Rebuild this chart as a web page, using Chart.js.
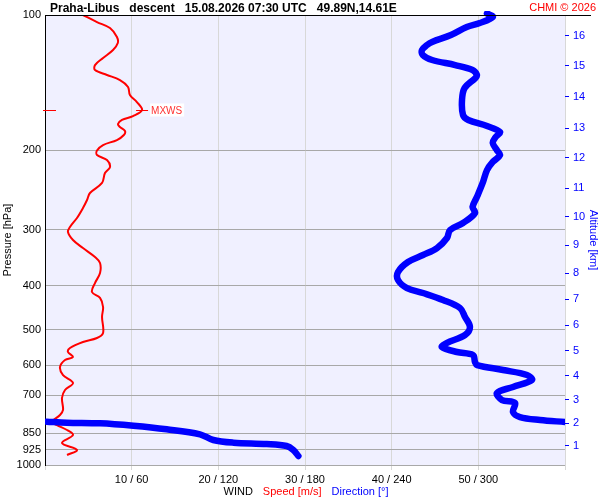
<!DOCTYPE html>
<html><head><meta charset="utf-8">
<script src="https://cdn.jsdelivr.net/npm/chart.js@4/dist/chart.umd.min.js"></script>
<style>html,body{margin:0;padding:0;background:#fff}#wrap{width:600px;height:500px;position:relative}</style>
</head><body><div id="wrap"><canvas id="c"></canvas></div>
<script>
const FONT = "'Liberation Sans', Arial, sans-serif";
const titleText = "Praha-Libus   descent   15.08.2026 07:30 UTC   49.89N,14.61E";
const creditText = "CHMI \u00A9 2026";
const pressureTicks = [100,200,300,400,500,600,700,850,925,1000];
const altKm = [1,2,3,4,5,6,7,8,9,10,11,12,13,14,15,16];
const altPressure = [907,807,717,634,558,488.6,427.7,374.5,324.5,281,242.4,207.8,178.3,152.1,129.8,111.3];
const speedTicks = [0,10,20,30,40,50,60];
const dirTicks = [0,60,120,180,240,300,360];

const speedPressure = [100,103.7,106.9,111.9,115.4,119.6,124.6,129.2,132.5,135.9,139.5,144.5,150.6,156.1,162.6,167.7,171.1,174.7,177.4,181.1,184.8,189.6,194.5,200,204.7,210,217.7,224.5,236.2,248.6,257.7,268.5,282.5,295.8,303.5,316.2,329.5,345,355.7,374.4,394.1,412.6,425.4,445.5,468.8,509,522.2,532.9,549.5,560.9,575.4,584.3,605.7,631,657.3,681.3,709.8,754.5,774.3,802.5,815,836,857.7,893.6,926.1,950.1];
const speedValues = [4.38,6.0,7.5,8.3,8.4,7.85,6.7,5.77,5.77,7.15,8.65,9.58,9.8,10.6,11.2,10.15,8.88,8.42,8.65,9.23,9.1,8.3,6.7,6.0,6.0,7.15,7.5,6.92,6.58,5.19,4.85,4.38,3.69,2.88,2.65,3.23,4.38,5.77,6.35,6.35,5.77,5.42,6.35,6.7,6.58,6.7,6.0,4.38,2.88,2.65,3.23,2.31,1.73,2.08,3.23,2.31,1.96,2.08,1.73,0.81,1.38,2.54,3.23,1.96,3.69,2.54];

const dirPressureUpper = [99.2,101,104.2,106.3,110.8,114.8,116.6,119.6,122.7,125.9,129.2,132.5,135.9,138,145.3,154.5,166.8,171.1,176.5,182,186.7,192.5,200,204.7,212.1,221.1,236.2,253.8,267.1,275.4,289.9,300.5,313,329.5,341.5,353.9,372.5,388,404.3,414.8,429.9,447.9,468.8,493.5,514.2,535.7,546.7,560.9,569.6,590.3,599.5,615,631,647.3,670.7,691.8,717.2,728.2,762.4,782.3,794.3,802.5];
const dirValuesUpper = [306,310,301,292,281,268,264.5,261,261.5,268,284,296,299,298,290.5,288.7,289.4,293,306,315,312,310,313,315,310,306,303,299,296,297.7,289.4,280.4,278.3,271.4,261.7,251.3,244.4,244.4,250.6,261.7,275.5,287.3,290.8,294.2,290.8,278,274.8,285.2,296.3,297.7,299.1,317.1,333.7,337.1,324,312.9,316.4,325.4,324,328.8,342.7,360];
const dirPressureLower = [801,805.4,807.8,818,833,854.7,880,892,898.2,907.4,926,955];
const dirValuesLower = [1.2,15,38.1,61.2,84.2,107.3,116.5,130.4,153.5,167.3,171.9,175.4];

const toPts = (xs, ps) => xs.map((v,i)=>({x:v, y:ps[i]}));

const decor = {
  id:'decor',
  beforeDraw(chart){
    const {ctx, chartArea:a} = chart;
    ctx.save();
    ctx.fillStyle = '#ffffff';
    ctx.fillRect(0,0,chart.width,chart.height);
    ctx.fillStyle = '#F0F0FF';
    ctx.fillRect(a.left,a.top,a.right-a.left,a.bottom-a.top);
    ctx.restore();
  },
  afterDraw(chart){
    const {ctx, chartArea:a} = chart;
    ctx.save();
    ctx.strokeStyle = '#000'; ctx.lineWidth = 1;
    ctx.beginPath(); ctx.moveTo(a.left, a.top+0.5); ctx.lineTo(chart.width-9, a.top+0.5); ctx.stroke();
    ctx.fillStyle = '#000'; ctx.font = 'bold 12px ' + FONT; ctx.textAlign='left'; ctx.textBaseline='alphabetic';
    ctx.fillText(titleText, 50, 12);
    ctx.fillStyle = '#FF0000'; ctx.font = '11px ' + FONT; ctx.textAlign='right';
    ctx.fillText(creditText, 596, 11);
    const parts = [['WIND','#000'],['Speed [m/s]','#FF0000'],['Direction [\u00B0]','#0000FF']];
    ctx.font = '11px ' + FONT; ctx.textAlign='left';
    const gap = 10;
    let total = parts.reduce((s,p)=>s+ctx.measureText(p[0]).width,0) + gap*(parts.length-1);
    let x = (a.left+a.right)/2 - total/2 + 1;
    parts.forEach(p=>{ ctx.fillStyle=p[1]; ctx.fillText(p[0], x, 495); x += ctx.measureText(p[0]).width + gap; });
    let mi = 0; speedValues.forEach((v,i)=>{ if(v>speedValues[mi]) mi=i; });
    const xs = chart.scales.x, ys = chart.scales.y;
    const px = xs.getPixelForValue(speedValues[mi]), py = Math.round(ys.getPixelForValue(speedPressure[mi]))+0.5;
    ctx.strokeStyle = '#FF0000'; ctx.lineWidth = 1;
    ctx.beginPath(); ctx.moveTo(a.left-2, py); ctx.lineTo(a.left+11, py); ctx.stroke();
    ctx.beginPath(); ctx.moveTo(px-6, py); ctx.lineTo(px+6, py); ctx.stroke();
    ctx.font = '10px ' + FONT;
    const w = ctx.measureText('MXWS').width;
    ctx.fillStyle = '#ffffff'; ctx.fillRect(px+8, py-7, w+3, 13);
    ctx.fillStyle = '#FF3030'; ctx.textBaseline='middle'; ctx.fillText('MXWS', px+9, py+0.5);
    ctx.restore();
  }
};

new Chart(document.getElementById('c'), {
  type:'scatter',
  data:{ datasets:[
    { label:'Direction', data: toPts(dirValuesUpper, dirPressureUpper), xAxisID:'x2', yAxisID:'y', showLine:true, borderColor:'#0000FF', borderWidth:6.5, pointRadius:0, tension:0.35, borderCapStyle:'round', borderJoinStyle:'round', clip:{left:0,right:0,top:4,bottom:0} },
    { label:'Direction2', data: toPts(dirValuesLower, dirPressureLower), xAxisID:'x2', yAxisID:'y', showLine:true, borderColor:'#0000FF', borderWidth:6.5, pointRadius:0, tension:0.35, borderCapStyle:'round', borderJoinStyle:'round' },
    { label:'Speed', data: toPts(speedValues, speedPressure), xAxisID:'x', yAxisID:'y', showLine:true, borderColor:'#FF0000', borderWidth:2, pointRadius:0, tension:0.35 }
  ]},
  options:{
    responsive:true, maintainAspectRatio:false, animation:false,
    layout:{ padding:{ top:15, left:0, right:0, bottom:0 } },
    plugins:{ legend:{display:false}, tooltip:{enabled:false}, title:{display:false} },
    scales:{
      x:{ type:'linear', position:'bottom', min:0, max:60,
        afterBuildTicks: s => { s.ticks = speedTicks.map(v=>({value:v})); },
        afterFit: s => { s.height = 35; },
        ticks:{ color:'#000', font:{size:11, family:FONT}, padding:3, maxRotation:0, autoSkip:false,
          callback:(v,i)=> (i===0 || i===speedTicks.length-1) ? '' : speedTicks[i] + ' / ' + dirTicks[i] },
        grid:{ color:'#D8D8D8', lineWidth:1, tickLength:5 },
        border:{ display:false }
      },
      x2:{ type:'linear', display:false, min:0, max:360 },
      y:{ type:'logarithmic', position:'left', reverse:true, min:100, max:1000,
        afterBuildTicks: s => { s.ticks = pressureTicks.map(v=>({value:v})); },
        afterFit: s => { s.width = 45; },
        ticks:{ color:'#000', font:{size:11, family:FONT}, padding:4, autoSkip:false, callback:(v,i)=> String(pressureTicks[i]) },
        grid:{ color:'#A8A8A8', lineWidth:1, drawTicks:false },
        border:{ display:true, color:'#000', width:1 },
        title:{ display:true, text:'Pressure [hPa]', color:'#000', font:{size:11, family:FONT}, padding:{top:1,bottom:0} }
      },
      yAlt:{ type:'logarithmic', position:'right', reverse:true, min:100, max:1000,
        afterBuildTicks: s => { s.ticks = altPressure.map(v=>({value:v})); },
        afterFit: s => { s.width = 35; },
        ticks:{ color:'#0000FF', font:{size:11, family:FONT}, padding:4, autoSkip:false, callback:(v,i)=> String(altKm[i]) },
        grid:{ drawOnChartArea:false, color:'#0000FF', tickLength:4, lineWidth:1 },
        border:{ display:false },
        title:{ display:true, text:'Altitude [km]', color:'#0000FF', font:{size:11, family:FONT}, padding:{top:0,bottom:1} }
      }
    }
  },
  plugins:[decor]
});
</script>
</body></html>
